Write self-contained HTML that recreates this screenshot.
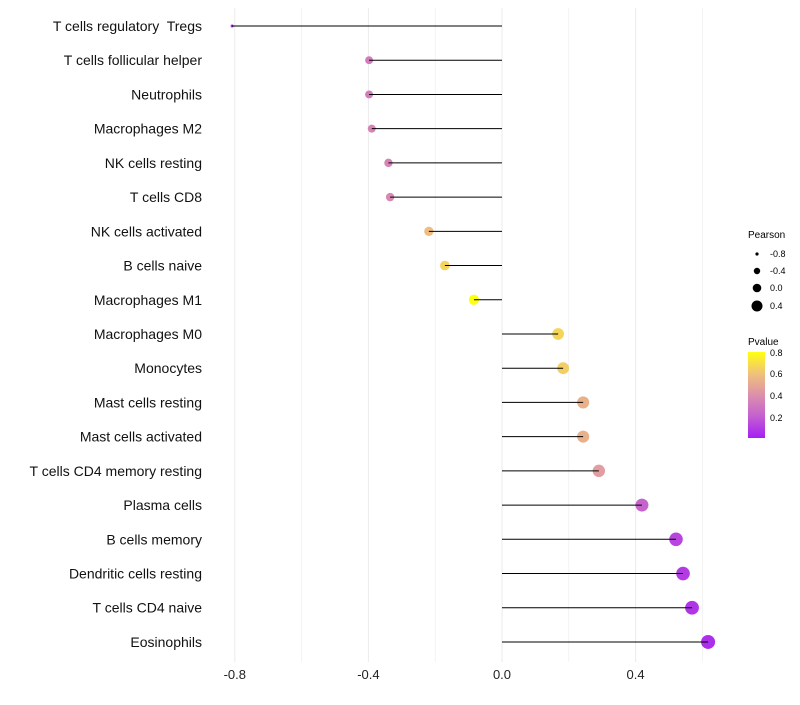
<!DOCTYPE html>
<html><head><meta charset="utf-8"><style>
body{margin:0;background:#fff;font-family:"Liberation Sans",sans-serif}
text{white-space:pre}
</style></head><body>
<svg id="chart" width="800" height="700" xmlns="http://www.w3.org/2000/svg">
<defs><linearGradient id="pg" x1="0" y1="1" x2="0" y2="0">
<stop offset="0" stop-color="#a51ef3"/><stop offset="0.25" stop-color="#c45fd2"/><stop offset="0.5" stop-color="#dc90ab"/><stop offset="0.75" stop-color="#f0c27a"/><stop offset="1" stop-color="#ffff10"/>
</linearGradient></defs>
<g id="grid"></g><g id="marks"></g><g id="labels"></g>
<g font-size="9" fill="#000">
<text x="748" y="238" font-size="10">Pearson</text>
<circle cx="757" cy="254" r="1.6"/><text x="770" y="257">-0.8</text>
<circle cx="757" cy="271" r="3.2"/><text x="770" y="274">-0.4</text>
<circle cx="757" cy="288" r="4.3"/><text x="770" y="291">0.0</text>
<circle cx="757" cy="306" r="5.5"/><text x="770" y="309">0.4</text>
<text x="748" y="345" font-size="10">Pvalue</text>
<rect x="748" y="352" width="17" height="86" fill="url(#pg)"/>
<text x="770" y="356">0.8</text><text x="770" y="377">0.6</text><text x="770" y="399">0.4</text><text x="770" y="421">0.2</text>
</g>
</svg>
<script>
const categories=["T cells regulatory  Tregs","T cells follicular helper","Neutrophils","Macrophages M2","NK cells resting","T cells CD8","NK cells activated","B cells naive","Macrophages M1","Macrophages M0","Monocytes","Mast cells resting","Mast cells activated","T cells CD4 memory resting","Plasma cells","B cells memory","Dendritic cells resting","T cells CD4 naive","Eosinophils"];
const pearson=[-0.808,-0.398,-0.398,-0.39,-0.34,-0.335,-0.219,-0.171,-0.084,0.168,0.183,0.243,0.243,0.29,0.419,0.521,0.542,0.569,0.617];
const pvalue=[0.01,0.32,0.32,0.35,0.35,0.37,0.58,0.66,0.82,0.66,0.64,0.53,0.53,0.45,0.22,0.12,0.09,0.07,0.05];
const ticks=[-0.8,-0.4,0.0,0.4];
const tickLabels=["-0.8","-0.4","0.0","0.4"];
const ns="http://www.w3.org/2000/svg";
const x=v=>502+v*334;
const y=i=>26+i*34.22;
const rad=v=>Math.sqrt(Math.max(1,2.25+32.7*(v+0.81)));
const stops=[[0,[165,30,243]],[0.2,[196,95,210]],[0.4,[220,144,171]],[0.6,[240,194,122]],[0.8,[255,255,16]]];
function col(p){p=Math.max(0,Math.min(0.8,p));for(let k=0;k<stops.length-1;k++){const[a,ca]=stops[k],[b,cb]=stops[k+1];if(p<=b){const t=(p-a)/(b-a);return "rgb("+ca.map((c,j)=>Math.round(c+(cb[j]-c)*t)).join(",")+")";}}return "rgb(255,255,16)";}
function mk(t,attrs,parent){const e=document.createElementNS(ns,t);for(const k in attrs)e.setAttribute(k,attrs[k]);document.getElementById(parent).appendChild(e);return e;}
for(let v=-0.8;v<=0.61;v+=0.2){const g=mk("line",{x1:x(v),x2:x(v),y1:8,y2:662,stroke:"#ebebeb","stroke-width":Math.abs(Math.round(v*10))%4==0?1:0.6},"grid");

}
ticks.forEach((t,i)=>{const e=mk("text",{x:x(t),y:679,"text-anchor":"middle","font-size":"13",fill:"#222"},"labels");e.textContent=tickLabels[i];

});
categories.forEach((c,i)=>{
const d=mk("circle",{cx:x(pearson[i]),cy:y(i),r:rad(pearson[i]),fill:col(pvalue[i])},"marks");


const l=mk("line",{x1:x(0),x2:x(pearson[i]),y1:y(i),y2:y(i),stroke:"#000","stroke-width":1},"marks");


const t=mk("text",{x:202,y:y(i)+5,"text-anchor":"end","font-size":"14",fill:"#111"},"labels");t.textContent=c;


});
</script>
</body></html>
